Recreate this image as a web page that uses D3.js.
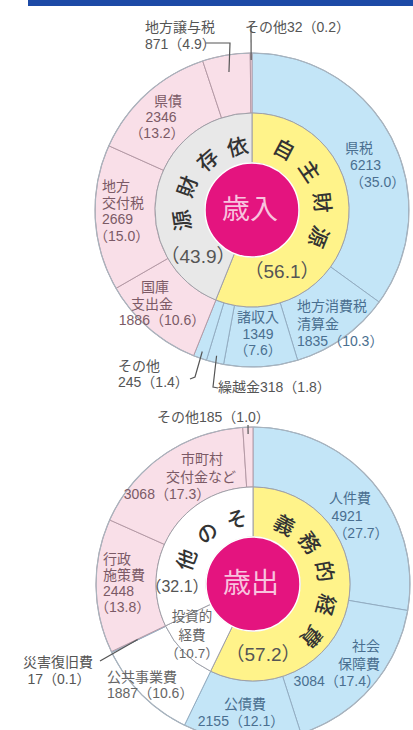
<!DOCTYPE html>
<html><head><meta charset="utf-8">
<script src="https://cdn.jsdelivr.net/npm/d3@7"></script>
<style>
html,body{margin:0;padding:0;background:#fff;}
svg{display:block;font-family:"Noto Sans CJK JP","Noto Sans",sans-serif;}
.lbl{font-family:"Liberation Sans","Noto Sans CJK JP",sans-serif;}
</style></head>
<body>
<svg id="c" width="413" height="730"></svg>
<script>
// ---------- DATA ----------
// 歳入 (revenue), 億円
const revCats   = ["県税","地方消費税清算金","諸収入","繰越金","その他","国庫支出金","地方交付税","県債","地方譲与税","その他"];
const revLabels = ["県税","地方消費税\n清算金","諸収入","繰越金","その他","国庫\n支出金","地方\n交付税","県債","地方譲与税","その他"];
const revVals   = [6213,1835,1349,318,245,1886,2669,2346,871,32];
const revPcts   = ["35.0","10.3","7.6","1.8","1.4","10.6","15.0","13.2","4.9","0.2"];
const revGroups = ["own","own","own","own","own","dep","dep","dep","dep","dep"];
const revInnerCats = ["自主財源","依存財源"];
const revInnerVals = [56.1,43.9];

// 歳出 (expenditure), 億円
const expCats   = ["人件費","社会保障費","公債費","公共事業費","災害復旧費","行政施策費","市町村交付金など","その他"];
const expLabels = ["人件費","社会\n保障費","公債費","公共事業費","災害復旧費","行政\n施策費","市町村\n交付金など","その他"];
const expVals   = [4921,3084,2155,1887,17,2448,3068,185];
const expPcts   = ["27.7","17.4","12.1","10.6","0.1","13.8","17.3","1.0"];
const expGroups = ["duty","duty","duty","inv","inv","other","other","other"];
const expInnerCats = ["義務的経費","投資的経費","その他"];
const expInnerVals = [57.2,10.7,32.1];

// ---------- STYLE / LAYOUT ----------
const fillOuter = {own:"#c3e5f7", dep:"#f9dfe8", duty:"#c3e5f7", inv:"#ffffff", other:"#f9dfe8"};
const fillInner = {"自主財源":"#fff38a","依存財源":"#e8e8e8","義務的経費":"#fff38a","投資的経費":"#ffffff","その他":"#ffffff"};
const textCol   = {own:"#4a6f90", dep:"#7b5a66", duty:"#4a6f90", inv:"#666", other:"#7b5a66"};
const R0 = 47, R1 = 97, R2 = 157;
const svg = d3.select("#c");
const FP = s => "（"+s+"）";

svg.append("rect").attr("x",28).attr("y",0).attr("width",385).attr("height",6).attr("fill","#1d4aa6");

// one <text> per label, lines as tspans
function multiText(lines, xs, y, dy, anchor, fs, col){
  const t = svg.append("text").attr("class","lbl").attr("text-anchor",anchor).attr("font-size",fs).attr("fill",col);
  lines.forEach((ln,k)=>{
    let x = Array.isArray(xs)? xs[k] : xs;
    if(anchor==="start" && ln.startsWith("（")) x -= 8;
    t.append("tspan").attr("x",x).attr("y",y + k*dy).text(ln);
  });
  return t;
}

function drawDonut(cx, cy, vals, groups, innerVals, innerCats, centerText, labelLayouts, labels, pcts, innerSpec){
  const g = svg.append("g").attr("transform",`translate(${cx},${cy})`);
  const pie = d3.pie().sort(null).value(d=>d);
  const outer = pie(vals);
  const inner = pie(innerVals);
  const arcO = d3.arc().innerRadius(R1).outerRadius(R2);
  const arcI = d3.arc().innerRadius(R0).outerRadius(R1);
  g.selectAll("path.o").data(outer).join("path").attr("class","o")
    .attr("d",arcO).attr("fill",(d,i)=>fillOuter[groups[i]])
    .attr("stroke",(d,i)=>groups[i]==="dep"||groups[i]==="other"?"#b59aa6":"#93adc2").attr("stroke-width",1);
  g.selectAll("path.i").data(inner).join("path").attr("class","i")
    .attr("d",arcI).attr("fill",(d,i)=>fillInner[innerCats[i]])
    .attr("stroke","#a0a0a8").attr("stroke-width",1);
  g.append("circle").attr("r",R2).attr("fill","none").attr("stroke","#a9b3bd").attr("stroke-width",1.2);
  g.append("circle").attr("r",R0).attr("fill","#e4147f").attr("stroke","#fff").attr("stroke-width",1.5);
  g.append("text").attr("x",-2).attr("y",-3).attr("text-anchor","middle").attr("dominant-baseline","central")
    .attr("font-size",28).attr("fill","#f8c3de").text(centerText);

  // arc-text of inner ring names
  innerSpec.arcs.forEach(a=>{
    Array.from(a.text).forEach((ch,k)=>{
      const ang = a.start + a.step*k;
      const r = a.r + (a.dr||0)*k;
      const rad = ang*Math.PI/180;
      g.append("text").attr("transform",`translate(${r*Math.sin(rad)},${-r*Math.cos(rad)}) rotate(${ang})`)
        .attr("text-anchor","middle").attr("dominant-baseline","central")
        .attr("font-size",21).attr("font-weight",500).attr("fill","#333").text(ch);
    });
  });
  innerSpec.texts.forEach(t=> multiText(t.lines, t.x, t.y, t.dy||0, "middle", t.fs, t.col||"#555"));

  // outer labels
  labelLayouts.forEach((L,i)=>{
    const nameLines = labels[i].split("\n");
    const v = vals[i], p = pcts[i];
    let lines;
    if(L.mode==="stack") lines = [...nameLines, String(v), FP(p)];
    else if(L.mode==="join") lines = [...nameLines, v+FP(p)];
    else lines = [nameLines.join("")+v+FP(p)];
    multiText(lines, L.x, L.y, L.dy, L.anchor, 14, L.col||textCol[groups[i]]);
    if(L.leader){
      const d = outer[i], mid=(d.startAngle+d.endAngle)/2;
      const px = cx + L.leader.r*Math.sin(mid), py = cy - L.leader.r*Math.cos(mid);
      const pts = [...L.leader.pts, [px,py]];
      svg.append("path").attr("d",d3.line()(pts)).attr("fill","none").attr("stroke","#555").attr("stroke-width",1.2);
    }
  });
}

const revLayout = [
  {mode:"stack", x:[345,350,358], y:153, dy:17, anchor:"start"},
  {mode:"join", x:297, y:311, dy:17.5, anchor:"start"},
  {mode:"stack", x:258, y:322, dy:16.5, anchor:"middle"},
  {mode:"inline", x:218, y:392, dy:0, anchor:"start", col:"#555", leader:{r:150, pts:[[218,388],[213,387]]}},
  {mode:"join", x:118, y:371, dy:16, anchor:"start", col:"#555", leader:{r:150, pts:[[190,379],[195,377]]}},
  {mode:"join", x:[155,152,162], y:292, dy:16.5, anchor:"middle"},
  {mode:"stack", x:102, y:191, dy:16.7, anchor:"start"},
  {mode:"stack", x:[168,161,157], y:106, dy:16, anchor:"middle"},
  {mode:"join", x:145, y:32, dy:16.5, anchor:"start", col:"#555", leader:{r:140, pts:[[206,43],[230,43]]}},
  {mode:"inline", x:245, y:32, dy:0, anchor:"start", col:"#555", leader:{r:150, pts:[[251,25]]}}
];
drawDonut(252,210,revVals,revGroups,revInnerVals,revInnerCats,"歳入",revLayout,revLabels,revPcts,{
  arcs:[{text:"自主財源", start:28, step:28, r:70, dr:1},
        {text:"依存財源", start:-13, step:-28.5, r:66, dr:2}],
  texts:[{lines:[FP("43.9")], x:198, y:263, fs:19, col:"#555"},
         {lines:[FP("56.1")], x:282, y:278, fs:19, col:"#555"}]
});

const expLayout = [
  {mode:"stack", x:[350,347,361], y:503, dy:17.5, anchor:"middle"},
  {mode:"join", x:380, y:651, dy:17.5, anchor:"end"},
  {mode:"join", x:[245,241], y:709, dy:17, anchor:"middle"},
  {mode:"join", x:107, y:682, dy:16, anchor:"start", col:"#666"},
  {mode:"join", x:[58,59], y:667, dy:17, anchor:"middle", col:"#555", leader:{r:128, pts:[[100,661]]}},
  {mode:"stack", x:103, y:564, dy:16, anchor:"start"},
  {mode:"join", x:[202,201,167], y:464, dy:17.5, anchor:"middle"},
  {mode:"inline", x:157, y:422, dy:0, anchor:"start", col:"#555", leader:{r:150, pts:[[248,425]]}}
];
drawDonut(253,584,expVals,expGroups,expInnerVals,expInnerCats,"歳出",expLayout,expLabels,expPcts,{
  arcs:[{text:"義務的経費", start:28, step:26, r:68, dr:3},
        {text:"その他", start:-14, step:-28, r:68, dr:2}],
  texts:[{lines:["投資的","経費",FP("10.7")], x:192, y:621, dy:18.5, fs:13.5, col:"#666"},
         {lines:[FP("32.1")], x:177, y:592, fs:16, col:"#555"},
         {lines:[FP("57.2")], x:263, y:661, fs:19, col:"#555"}]
});
</script>
</body></html>
